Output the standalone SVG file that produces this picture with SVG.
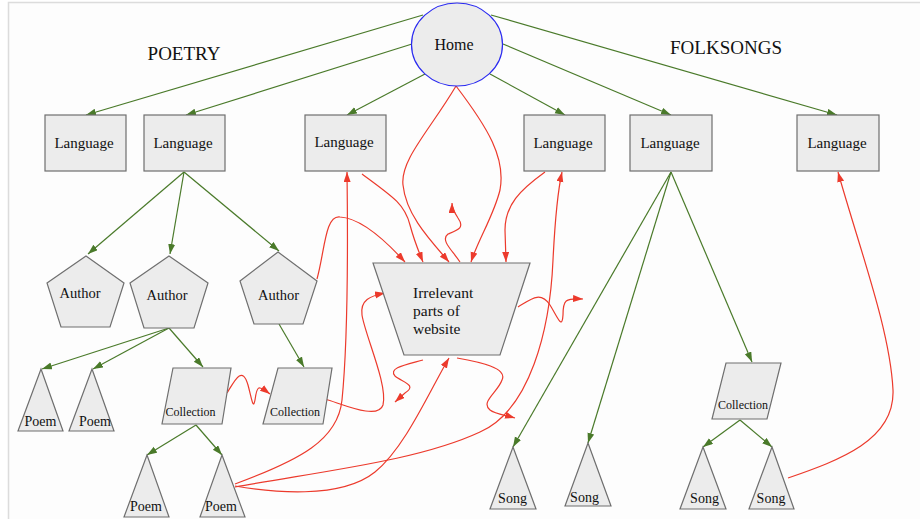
<svg xmlns="http://www.w3.org/2000/svg" width="920" height="519" viewBox="0 0 920 519">
<style>
.n{fill:#ececec;stroke:#6f6f6f;stroke-width:1.2}
.t{font-family:'Liberation Serif','DejaVu Serif',serif;fill:#111;text-anchor:middle}
.s{text-anchor:start}
.g{fill:none;stroke:#4a7a2a;stroke-width:1.2;marker-end:url(#ag)}
.r{fill:none;stroke:#ec3a2c;stroke-width:1.2;marker-end:url(#ar)}
</style>
<defs>
<marker id="ag" markerUnits="userSpaceOnUse" markerWidth="11" markerHeight="8" refX="10" refY="3.5" orient="auto"><path d="M0,0L10,3.5L0,7z" fill="#4a7a2a"/></marker>
<marker id="ar" markerUnits="userSpaceOnUse" markerWidth="11" markerHeight="8" refX="10" refY="3.5" orient="auto"><path d="M0,0L10,3.5L0,7z" fill="#ec3a2c"/></marker>
</defs>
<rect x="0" y="0" width="920" height="519" fill="#ffffff"/>
<rect x="9" y="3" width="911" height="516" fill="#fdfdfd"/>
<path d="M8.5,519V2.5H920" fill="none" stroke="#dcdcdc" stroke-width="1.5"/>
<g font-family="Liberation Serif, DejaVu Serif, serif">
<text class="t" x="184" y="60" font-size="19">POETRY</text>
<text class="t" x="726" y="54" font-size="19">FOLKSONGS</text>
</g>
<g id="connectors">
<path class="g" d="M423,15L86,115"/>
<path class="g" d="M412,44L186,115"/>
<path class="g" d="M425,74L347,115"/>
<path class="g" d="M490,74L565,115"/>
<path class="g" d="M503,44L671,115"/>
<path class="g" d="M491,15L837,115"/>
<path class="g" d="M184,172L88,254"/>
<path class="g" d="M184,172L170,254"/>
<path class="g" d="M184,172L279,251"/>
<path class="g" d="M169,328L42,369"/>
<path class="g" d="M169,328L93,369"/>
<path class="g" d="M169,328L203,367"/>
<path class="g" d="M279,324L304,367"/>
<path class="g" d="M196,425L147,455"/>
<path class="g" d="M196,425L222,455"/>
<path class="g" d="M671,172L513,447"/>
<path class="g" d="M671,172L588,443"/>
<path class="g" d="M671,172L752,362"/>
<path class="g" d="M740,420L703,447"/>
<path class="g" d="M740,420L772,447"/>
<path class="r" d="M456,86C430,130 400,160 403,185C406,215 430,240 449,262"/>
<path class="r" d="M456,86C488,128 506,158 500,190C494,215 478,240 471,262"/>
<path class="r" d="M362,174C395,198 405,205 410,225C414,240 418,250 423,262"/>
<path class="r" d="M545,172C520,190 505,205 505,230L506,262"/>
<path class="r" d="M317,279C325,250 325,215 340,217C360,218 385,240 405,262"/>
<path class="r" d="M460,262C452,250 440,240 448,234C458,230 465,228 458,218C454,212 452,208 452,203"/>
<path class="r" d="M518,307C530,300 540,290 550,305C558,318 562,330 563,315C563,300 565,298 583,299"/>
<path class="r" d="M423,360C405,365 388,368 395,376C402,382 418,385 405,393L395,402"/>
<path class="r" d="M457,358C480,362 508,368 502,380C498,392 480,402 490,410C495,414 505,415 515,418"/>
<path class="r" d="M227,393C235,380 242,365 248,385C252,400 253,410 255,400C257,385 258,385 270,394"/>
<path class="r" d="M325,399C345,405 378,420 383,405C388,385 365,335 362,315C360,300 370,296 385,293"/>
<path class="r" d="M235,484C300,460 338,440 342,400C348,340 348,250 347,172"/>
<path class="r" d="M235,486C270,492 340,500 375,472C405,448 430,390 449,358"/>
<path class="r" d="M235,487C330,470 420,460 480,432C530,410 550,330 553,260C555,220 558,190 562,172"/>
<path class="r" d="M788,478C840,460 895,440 893,390C890,330 860,250 838,172"/>
</g>
<g id="home"><ellipse cx="457" cy="44.5" rx="45.5" ry="41.5" fill="#ececec" stroke="#2a2af0" stroke-width="1.2"/><text class="t" x="454" y="50" font-size="16">Home</text></g>
<g id="lang1"><rect class="n" x="45" y="115" width="81" height="56"/><text class="t" x="84" y="148" font-size="15">Language</text></g>
<g id="lang2"><rect class="n" x="144" y="115" width="81" height="56"/><text class="t" x="183" y="148" font-size="15">Language</text></g>
<g id="lang3"><rect class="n" x="305" y="115" width="81" height="56"/><text class="t" x="344" y="147" font-size="15">Language</text></g>
<g id="lang4"><rect class="n" x="524" y="115" width="81" height="56"/><text class="t" x="563" y="148" font-size="15">Language</text></g>
<g id="lang5"><rect class="n" x="630" y="115" width="82" height="56"/><text class="t" x="670" y="148" font-size="15">Language</text></g>
<g id="lang6"><rect class="n" x="797" y="115" width="82" height="56"/><text class="t" x="837" y="148" font-size="15">Language</text></g>
<g id="author1"><polygon class="n" points="86,256 124,283 110,327 61,327 47,283"/><text class="t" x="80" y="298" font-size="14.5">Author</text></g>
<g id="author2"><polygon class="n" points="169,256 208,283 194,328 144,328 130,283"/><text class="t" x="167" y="300" font-size="14.5">Author</text></g>
<g id="author3"><polygon class="n" points="278,252 317,281 303,324 254,324 240,281"/><text class="t" x="278.5" y="300" font-size="14.5">Author</text></g>
<g id="irrelevant"><polygon class="n" points="373,263 530,263 500,355 404,355"/><text class="t s" x="413" y="298" font-size="15.5">Irrelevant</text><text class="t s" x="413" y="316" font-size="15.5">parts of</text><text class="t s" x="413" y="334" font-size="15.5">website</text></g>
<g id="poem1"><polygon class="n" points="41,369 63,431 18,431"/><text class="t" x="40.5" y="426" font-size="14">Poem</text></g>
<g id="poem2"><polygon class="n" points="92,369 114,431 69,431"/><text class="t" x="95" y="426" font-size="14">Poem</text></g>
<g id="collection1"><polygon class="n" points="173,368 231,368 222,424 162,424"/><text class="t" x="190.5" y="416" font-size="12">Collection</text></g>
<g id="collection2"><polygon class="n" points="278,368 332,368 323,424 263,424"/><text class="t" x="295" y="416" font-size="12">Collection</text></g>
<g id="poem3"><polygon class="n" points="147,455 169,517 124,517"/><text class="t" x="146" y="511" font-size="14">Poem</text></g>
<g id="poem4"><polygon class="n" points="222,455 245,517 200,517"/><text class="t" x="221" y="511" font-size="14">Poem</text></g>
<g id="song1"><polygon class="n" points="513,447 536,509 490,509"/><text class="t" x="512.5" y="503" font-size="14">Song</text></g>
<g id="song2"><polygon class="n" points="588,443 611,506 565,506"/><text class="t" x="584.5" y="502" font-size="14">Song</text></g>
<g id="collection3"><polygon class="n" points="726,363 781,363 767,419 712,419"/><text class="t" x="743" y="409" font-size="12">Collection</text></g>
<g id="song3"><polygon class="n" points="703,447 726,509 680,509"/><text class="t" x="704.5" y="503" font-size="14">Song</text></g>
<g id="song4"><polygon class="n" points="772,447 794,509 749,509"/><text class="t" x="771" y="503" font-size="14">Song</text></g>
</svg>
